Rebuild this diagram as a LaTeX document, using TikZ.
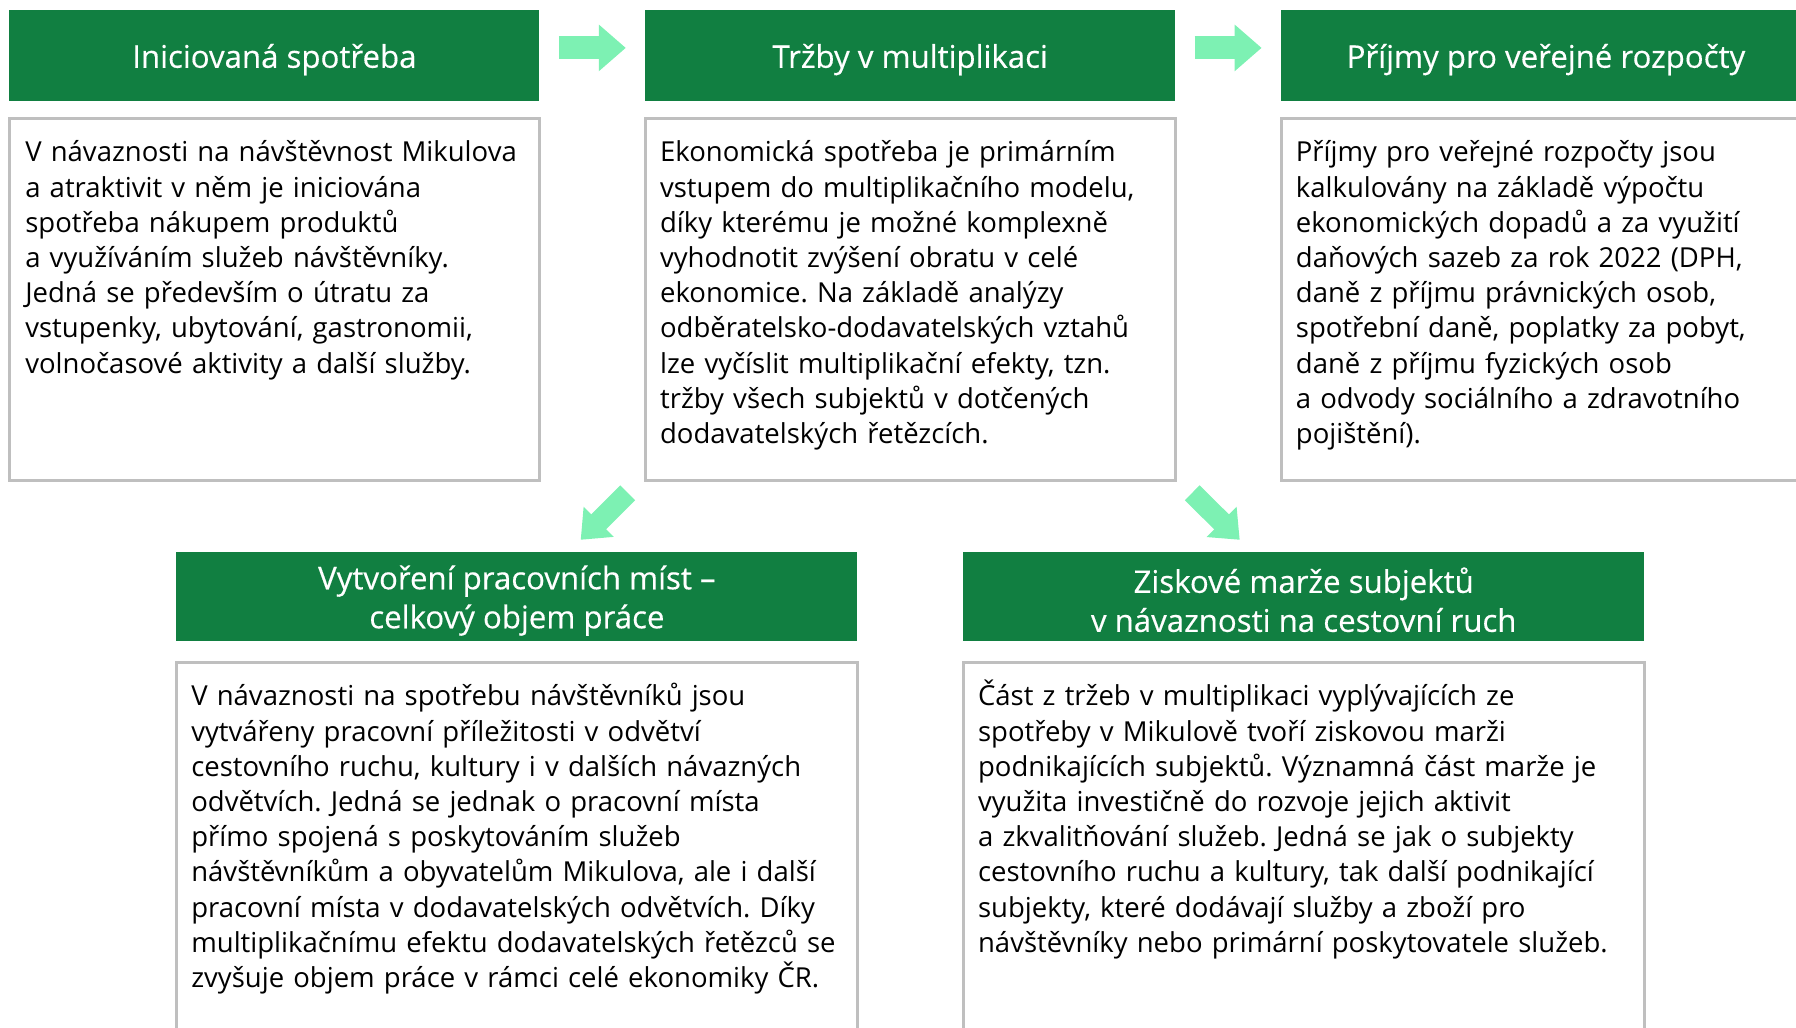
\documentclass[tikz,border=0pt]{standalone}
\usepackage{fontspec}
\setmainfont{Open Sans}
\newfontfamily\headfont{Open Sans}[FakeBold=0.4]
\usetikzlibrary{arrows.meta,positioning}
\definecolor{headgreen}{HTML}{117F41}
\definecolor{mint}{HTML}{7DF1B3}
\definecolor{framegray}{HTML}{BFBFBF}
\newcommand\headstrut{\rule{0pt}{1.0em}}
\tikzset{
  head/.style={fill=headgreen, text=white, align=center, minimum height=45.5pt, minimum width=265pt, inner sep=0pt, font=\headfont\fontsize{15.6}{19.5}\selectfont},
  widehead/.style={head, minimum width=340.5pt, minimum height=44.5pt},
  panel/.style={draw=framegray, line width=1.5pt, minimum width=265pt, minimum height=181pt, inner sep=0pt},
  widepanel/.style={panel, minimum width=340.5pt, minimum height=200pt},
  body/.style={align=left, text width=330pt, inner sep=0pt, anchor=base west, font=\fontsize{13.75}{17.6}\selectfont},
  flow/.style={-{Triangle[length=13.5pt, width=22.5pt]}, line width=11.5pt, draw=mint},
  diagflow/.style={-{Triangle[length=12.75pt, width=20.5pt]}, line width=10.5pt, draw=mint}
}
\frenchspacing

\begin{document}
\begin{tikzpicture}[x=0.5pt, y=-0.5pt, node distance=7.5pt and 52.5pt]
  \useasboundingbox (0,0) rectangle (1796,1028);

  % top row
  \node[head, anchor=north west] (h1) at (9,10) {\headstrut Iniciovaná spotřeba};
  \node[head, right=of h1] (h2) {\headstrut Tržby v multiplikaci};
  \node[head, right=of h2] (h3) {\headstrut Příjmy pro veřejné rozpočty};

  \node[panel, below=of h1] (t1) {};
  \node[panel, below=of h2] (t2) {};
  \node[panel, below=of h3] (t3) {};

  \node[body] (b1) at ([shift={(8.5pt,-22.5pt)}]t1.north west) {V návaznosti na návštěvnost Mikulova\\a atraktivit v něm je iniciována\\spotřeba nákupem produktů\\a využíváním služeb návštěvníky.\\Jedná se především o útratu za\\vstupenky, ubytování, gastronomii,\\volnočasové aktivity a další služby.};
  \node[body] (b2) at ([shift={(8pt,-22.5pt)}]t2.north west) {Ekonomická spotřeba je primárním\\vstupem do multiplikačního modelu,\\díky kterému je možné komplexně\\vyhodnotit zvýšení obratu v celé\\ekonomice. Na základě analýzy\\odběratelsko-dodavatelských vztahů\\lze vyčíslit multiplikační efekty, tzn.\\tržby všech subjektů v dotčených\\dodavatelských řetězcích.};
  \node[body] (b3) at ([shift={(8pt,-22.5pt)}]t3.north west) {Příjmy pro veřejné rozpočty jsou\\kalkulovány na základě výpočtu\\ekonomických dopadů a za využití\\daňových sazeb za rok 2022 (DPH,\\daně z příjmu právnických osob,\\spotřební daně, poplatky za pobyt,\\daně z příjmu fyzických osob\\a odvody sociálního a zdravotního\\pojištění).};

  % bottom row
  \node[widehead, anchor=north west] (h4) at (176,552) {\headstrut Vytvoření pracovních míst –\\celkový objem práce};
  \node[widehead, right=of h4] (h5) {\headstrut Ziskové marže subjektů\\v návaznosti na cestovní ruch};

  \node[widepanel, below=9.5pt of h4] (t4) {};
  \node[widepanel, below=9.5pt of h5] (t5) {};

  \node[body] (b4) at ([shift={(8pt,-22.5pt)}]t4.north west) {V návaznosti na spotřebu návštěvníků jsou\\vytvářeny pracovní příležitosti v odvětví\\cestovního ruchu, kultury i v dalších návazných\\odvětvích. Jedná se jednak o pracovní místa\\přímo spojená s poskytováním služeb\\návštěvníkům a obyvatelům Mikulova, ale i další\\pracovní místa v dodavatelských odvětvích. Díky\\multiplikačnímu efektu dodavatelských řetězců se\\zvyšuje objem práce v rámci celé ekonomiky ČR.};
  \node[body] (b5) at ([shift={(8pt,-22.5pt)}]t5.north west) {Část z tržeb v multiplikaci vyplývajících ze\\spotřeby v Mikulově tvoří ziskovou marži\\podnikajících subjektů. Významná část marže je\\využita investičně do rozvoje jejich aktivit\\a zkvalitňování služeb. Jedná se jak o subjekty\\cestovního ruchu a kultury, tak další podnikající\\subjekty, které dodávají služby a zboží pro\\návštěvníky nebo primární poskytovatele služeb.};

  % arrows
  \draw[flow] ([shift={(9.5pt,4pt)}]h1.east) -- ([shift={(-9.5pt,4pt)}]h2.west);
  \draw[flow] ([shift={(9.5pt,4pt)}]h2.east) -- ([shift={(-9.5pt,4pt)}]h3.west);
  \draw[diagflow] ([shift={(-8pt,-5.5pt)}]t2.south west) -- ([shift={(-31.5pt,-29pt)}]t2.south west);
  \draw[diagflow] ([shift={(7.75pt,-5.5pt)}]t2.south east) -- ([shift={(31.5pt,-29pt)}]t2.south east);
\end{tikzpicture}
\end{document}
